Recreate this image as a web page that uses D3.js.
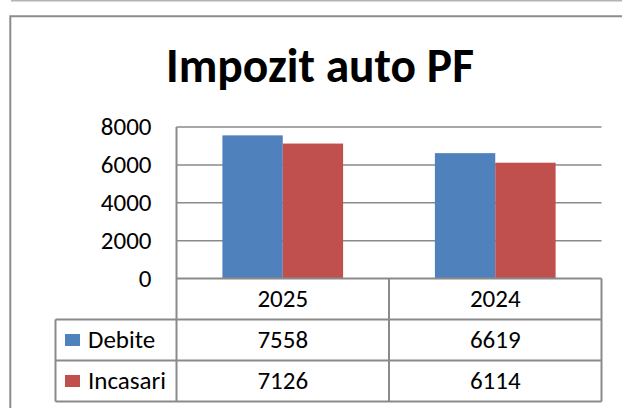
<!DOCTYPE html>
<html>
<head>
<meta charset="utf-8">
<script src="https://cdn.jsdelivr.net/npm/d3@7"></script>
<style>
  body { margin: 0; background: #fff; }
  svg { display: block; }
  text { font-family: Carlito, Calibri, Lato, sans-serif; fill: #000; }
</style>
</head>
<body>
<svg width="622" height="408"></svg>
<script>
var categories = ["2025", "2024"];
var seriesNames = ["Debite", "Incasari"];
var debite = [7558, 6619];
var incasari = [7126, 6114];
var yTicks = [0, 2000, 4000, 6000, 8000];
var colors = ["#4f81bd", "#c0504d"];

var series = [debite, incasari];

var svg = d3.select("svg"),
    plot = {left: 176.5, right: 601.5, top: 127, bottom: 278.5},
    rowH = 41,
    tableLeft = 55.5,
    lineColor = "#8a8a8a",
    fontSize = "25px";

var x0 = d3.scaleBand()
  .domain(categories)
  .range([plot.left, plot.right]);

var gap = x0.bandwidth() * 0.216;
var x1 = d3.scaleBand()
  .domain(seriesNames)
  .range([gap, x0.bandwidth() - gap]);

var y = d3.scaleLinear()
  .domain([0, 8000])
  .range([plot.bottom, plot.top]);

// outer frame (cropped at right/bottom) + light line above
svg.append("line")
  .attr("x1", 11).attr("x2", 622).attr("y1", 0.75).attr("y2", 0.75)
  .style("stroke", "#b4b4b4").style("stroke-width", 1.5);

svg.append("path")
  .attr("d", "M10.3,408 V16.3 H622")
  .style("fill", "none")
  .style("stroke", "#8c8c8c")
  .style("stroke-width", 2);

// title
svg.append("text")
  .attr("x", 320)
  .attr("y", 81.5)
  .attr("text-anchor", "middle")
  .style("font-size", "47.5px")
  .style("font-weight", "bold")
  .text("Impozit auto PF");

// gridlines
svg.append("g")
  .selectAll("line")
  .data(yTicks.filter(function(d) { return d > 0; }))
  .enter().append("line")
    .attr("x1", plot.left)
    .attr("x2", plot.right)
    .attr("y1", function(d) { return y(d); })
    .attr("y2", function(d) { return y(d); })
    .style("stroke", lineColor)
    .style("stroke-width", 1.5);

// y axis labels
var yAxis = svg.append("g")
  .attr("transform", "translate(" + plot.left + ",0)")
  .call(d3.axisLeft(y).tickValues(yTicks).tickSize(0).tickPadding(25).tickFormat(d3.format("d")));
yAxis.select(".domain").remove();
yAxis.selectAll("text")
  .style("font-size", fontSize)
  .style("font-family", "Carlito, Calibri, Lato, sans-serif")
  .attr("dy", "0.3em");

// bars
var groups = svg.append("g")
  .selectAll("g")
  .data(categories)
  .enter().append("g")
    .attr("transform", function(d) { return "translate(" + x0(d) + ",0)"; });

groups.selectAll("rect")
  .data(function(d, i) {
    return seriesNames.map(function(s, j) { return {name: s, value: series[j][i], k: j}; });
  })
  .enter().append("rect")
    .attr("x", function(d) { return x1(d.name); })
    .attr("width", x1.bandwidth())
    .attr("y", function(d) { return y(d.value); })
    .attr("height", function(d) { return y(0) - y(d.value); })
    .style("fill", function(d) { return colors[d.k]; });

// data table
var table = svg.append("g")
  .style("stroke", lineColor)
  .style("stroke-width", 2)
  .style("fill", "none");

var rowsY = [plot.bottom, plot.bottom + rowH, plot.bottom + 2 * rowH, plot.bottom + 3 * rowH];

// horizontal lines
table.append("line")
  .attr("x1", plot.left).attr("x2", plot.right)
  .attr("y1", rowsY[0]).attr("y2", rowsY[0]);
rowsY.slice(1).forEach(function(yy) {
  table.append("line")
    .attr("x1", tableLeft).attr("x2", plot.right)
    .attr("y1", yy).attr("y2", yy);
});

// vertical lines
table.append("line")
  .attr("x1", plot.left).attr("x2", plot.left)
  .attr("y1", plot.top).attr("y2", rowsY[3]);
table.append("line")
  .attr("x1", tableLeft).attr("x2", tableLeft)
  .attr("y1", rowsY[1]).attr("y2", rowsY[3]);
categories.forEach(function(c) {
  var xx = x0(c) + x0.bandwidth();
  table.append("line")
    .attr("x1", xx).attr("x2", xx)
    .attr("y1", rowsY[0]).attr("y2", rowsY[3]);
});

// header labels
svg.append("g")
  .selectAll("text")
  .data(categories)
  .enter().append("text")
    .attr("x", function(d) { return x0(d) + x0.bandwidth() / 2; })
    .attr("y", rowsY[0] + rowH / 2)
    .attr("dy", "0.3em")
    .attr("text-anchor", "middle")
    .style("font-size", fontSize)
    .text(function(d) { return d; });

// series rows
seriesNames.forEach(function(s, j) {
  var cy = rowsY[j + 1] + rowH / 2;
  svg.append("rect")
    .attr("x", 65)
    .attr("y", cy - 6)
    .attr("width", 15)
    .attr("height", 12)
    .style("fill", colors[j]);
  svg.append("text")
    .attr("x", 88)
    .attr("y", cy)
    .attr("dy", "0.3em")
    .style("font-size", fontSize)
    .text(s);
  categories.forEach(function(c, i) {
    svg.append("text")
      .attr("x", x0(c) + x0.bandwidth() / 2)
      .attr("y", cy)
      .attr("dy", "0.3em")
      .attr("text-anchor", "middle")
      .style("font-size", fontSize)
      .text(series[j][i]);
  });
});
</script>
</body>
</html>
